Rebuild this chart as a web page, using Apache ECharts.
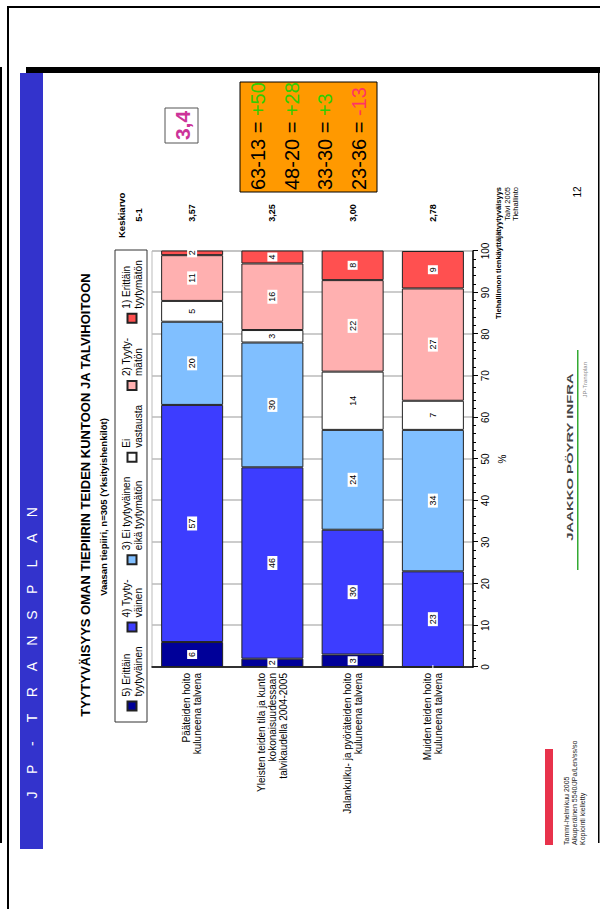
<!DOCTYPE html>
<html>
<head>
<meta charset="utf-8">
<script src="https://cdn.jsdelivr.net/npm/echarts@6/dist/echarts.min.js"></script>
<style>
  html, body { margin: 0; padding: 0; background: #fff; }
  #page { position: relative; width: 600px; height: 909px; overflow: hidden; background: #fff; }
  .ln { position: absolute; background: #000; }
  #chart {
    position: absolute; left: 0; top: 0; width: 909px; height: 600px;
    transform-origin: 0 0; transform: translate(0, 909px) rotate(-90deg);
  }
</style>
</head>
<body>
<div id="page">
  <div class="ln" style="left:7px;top:6px;width:593px;height:2px"></div>
  <div class="ln" style="left:7px;top:6px;width:2px;height:903px"></div>
  <div class="ln" style="left:0;top:67px;width:2px;height:776px"></div>
  <div id="chart"></div>
</div>
<script>
// slide is drawn landscape (909x600) and turned a quarter left
var categories = [
  'Pääteiden hoito\nkuluneena talvena',
  'Yleisten teiden tila ja kunto\nkokonaisuudessaan\ntalvikaudella 2004-2005',
  'Jalankulku- ja pyöräteiden hoito\nkuluneena talvena',
  'Muiden teiden hoito\nkuluneena talvena'
];
var seriesNames = [
  '5) Erittäin tyytyväinen', '4) Tyytyväinen', '3) Ei tyytyväinen eikä tyytymätön',
  'Ei vastausta', '2) Tyytymätön', '1) Erittäin tyytymätön'
];
var legendLabels = [
  '5) Erittäin\ntyytyväinen', '4) Tyyty-\nväinen', '3) Ei tyytyväinen\neikä tyytymätön',
  'Ei\nvastausta', '2) Tyyty-\nmätön', '1) Erittäin\ntyytymätön'
];
var colors = ['#000099', '#3d3dff', '#80bfff', '#ffffff', '#ffb0b0', '#ff5050'];

var erittainTyytyvainen = [6, 2, 3, 0];
var tyytyvainen = [57, 46, 30, 23];
var eiKumpikaan = [20, 30, 24, 34];
var eiVastausta = [5, 3, 14, 7];
var tyytymaton = [11, 16, 22, 27];
var erittainTyytymaton = [2, 4, 8, 9];
var means = [3.57, 3.25, 3.00, 2.78];
var overallMean = '3,4';

var valueMin = 0, valueMax = 100, valueStep = 10;

var allSeries = [erittainTyytyvainen, tyytyvainen, eiKumpikaan, eiVastausta, tyytymaton, erittainTyytymaton];
var font = '"Liberation Sans", Arial, sans-serif';

var chart = echarts.init(document.getElementById('chart'), null, { renderer: 'svg' });

var series = allSeries.map(function(vals, i) {
  return {
    name: seriesNames[i],
    type: 'bar',
    stack: 'all',
    data: vals,
    barWidth: 62,
    clip: true,
    itemStyle: { color: colors[i], borderColor: '#222', borderWidth: 1 },
    label: {
      show: true,
      position: 'inside',
      formatter: function(p) { return p.value > 0 ? p.value : ''; },
      backgroundColor: '#fff',
      padding: [1, 2, 0, 2],
      color: '#000',
      fontSize: 9
    },
    emphasis: { disabled: true }
  };
});

var gfx = [];
gfx.push({ type: 'rect', shape: { x: 60, y: 20, width: 776, height: 23 }, style: { fill: '#3333cc' } });
gfx.push({ type: 'rect', shape: { x: 836, y: 26, width: 6, height: 574 }, style: { fill: '#000' } });
gfx.push({ type: 'rect', shape: { x: 66, y: 598, width: 770, height: 1.5 }, style: { fill: '#000' } });

var brand = 'JP-TRANSPLAN'.split('');
brand.forEach(function(ch, i) {
  gfx.push({ type: 'text', x: 114 + i * 25.7, y: 32,
    style: { text: ch, fill: '#fff', font: '14px ' + font, textAlign: 'center', textVerticalAlign: 'middle', align: 'center', verticalAlign: 'middle' } });
});

function txt(x, y, s, f, fill, align) {
  return { type: 'text', x: x, y: y,
    style: { text: s, font: f + ' ' + font, fill: fill || '#000', textAlign: align || 'center', align: align || 'center',
      textVerticalAlign: 'middle', verticalAlign: 'middle' } };
}

gfx.push(txt(414, 85, 'TYYTYVÄISYYS OMAN TIEPIIRIN TEIDEN KUNTOON JA TALVIHOITOON', 'bold 13px'));
gfx.push(txt(402, 103, 'Vaasan tiepiiri, n=305 (Yksityishenkilöt)', 'bold 9.5px'));
gfx.push({ type: 'rect', shape: { x: 187, y: 115, width: 472, height: 32 }, style: { fill: 'none', stroke: '#333', lineWidth: 1 } });
gfx.push(txt(671, 121, 'Keskiarvo', 'bold 9.5px', '#000', 'left'));
gfx.push(txt(694, 138, '5-1', 'bold 9.5px'));

// orange box: positive share minus negative share per category
gfx.push({ type: 'rect', shape: { x: 717, y: 240, width: 110, height: 137 }, style: { fill: '#ff9900', stroke: '#000', lineWidth: 1 } });
for (var i = 0; i < categories.length; i++) {
  var pos = erittainTyytyvainen[i] + tyytyvainen[i];
  var neg = tyytymaton[i] + erittainTyytymaton[i];
  var diff = pos - neg;
  var dtxt = (diff >= 0 ? '+' : '') + diff;
  gfx.push({ type: 'text', x: 719, y: 258 + i * 33.5,
    style: { text: '{k|' + pos + '-' + neg + ' = }{d|' + dtxt + '}', textAlign: 'left', align: 'left',
      textVerticalAlign: 'middle', verticalAlign: 'middle',
      rich: {
        k: { fill: '#000', fontSize: 20, fontFamily: font },
        d: { fill: diff >= 0 ? '#33cc00' : '#ff3366', fontSize: 20, fontFamily: font }
      } } });
}

gfx.push({ type: 'rect', shape: { x: 766, y: 165, width: 35, height: 33 }, style: { fill: '#fff', stroke: '#555', lineWidth: 1 } });
gfx.push(txt(783.5, 182, overallMean, 'bold 21px', '#cc3399'));

gfx.push(txt(722, 498, 'Tiehallinnon tienkäyttäjätyytyväisyys', 'bold 7.5px', '#000', 'right'));
gfx.push(txt(722, 507, 'Talvi 2005', '7.5px', '#000', 'right'));
gfx.push(txt(722, 515, 'Tiehallinto', '7.5px', '#000', 'right'));
gfx.push(txt(717, 577, '12', '10px'));

gfx.push({ type: 'text', x: 452, y: 570, scaleX: 1.65,
  style: { text: 'JAAKKO PÖYRY INFRA', font: 'bold 9px ' + font, fill: '#444', textAlign: 'center', align: 'center', textVerticalAlign: 'middle', verticalAlign: 'middle' } });
gfx.push({ type: 'rect', shape: { x: 339, y: 577, width: 220, height: 1.5 }, style: { fill: '#33aa33' } });
gfx.push(txt(547, 585, 'JP-Transplan', '6px', '#888', 'right'));

gfx.push({ type: 'rect', shape: { x: 64, y: 545, width: 96, height: 8 }, style: { fill: '#e8324b' } });
gfx.push(txt(64, 566, 'Tammi-helmikuu 2005', '7px', '#222', 'left'));
gfx.push(txt(64, 574, 'Alkuperäinen 5540/JPa/Len/ss/so', '7px', '#222', 'left'));
gfx.push(txt(64, 582, 'Kopiointi kielletty', '7px', '#222', 'left'));

chart.setOption({
  animation: false,
  textStyle: { fontFamily: font },
  legend: {
    data: seriesNames,
    left: 197.5,
    top: 120,
    padding: 0,
    itemGap: 14,
    itemWidth: 9,
    itemHeight: 9,
    icon: 'rect',
    formatter: function(name) { return legendLabels[seriesNames.indexOf(name)]; },
    textStyle: { fontSize: 10, lineHeight: 12, color: '#000' },
    selectedMode: false
  },
  grid: {
    left: 242, right: 251, top: 152, bottom: 127,
    show: true, borderColor: '#bbb', borderWidth: 1
  },
  xAxis: {
    type: 'value',
    min: valueMin, max: valueMax, interval: valueStep,
    name: '%', nameLocation: 'middle', nameGap: 24,
    nameTextStyle: { fontSize: 10, color: '#000' },
    axisLine: { show: true, lineStyle: { color: '#000', width: 1.5 } },
    axisTick: { show: true, length: 5, lineStyle: { color: '#000' } },
    minorTick: { show: true, splitNumber: 5, length: 3, lineStyle: { color: '#000' } },
    axisLabel: { fontSize: 10, color: '#000', margin: 7 },
    splitLine: { show: true, lineStyle: { color: '#bbb', width: 1.5 } }
  },
  yAxis: [
    {
      type: 'category',
      data: categories,
      inverse: true,
      axisLine: { show: true, lineStyle: { color: '#000', width: 1.5 } },
      axisTick: { show: false },
      axisLabel: { fontSize: 10, lineHeight: 11, color: '#000', margin: 6 }
    },
    {
      type: 'category',
      data: means.map(function(v) { return v.toFixed(2).replace('.', ','); }),
      inverse: true,
      position: 'right',
      axisLine: { show: false },
      axisTick: { show: false },
      axisLabel: { fontSize: 9, fontWeight: 'bold', color: '#000', align: 'center', margin: 38 }
    }
  ],
  series: series,
  graphic: { elements: gfx }
});
</script>
</body>
</html>
